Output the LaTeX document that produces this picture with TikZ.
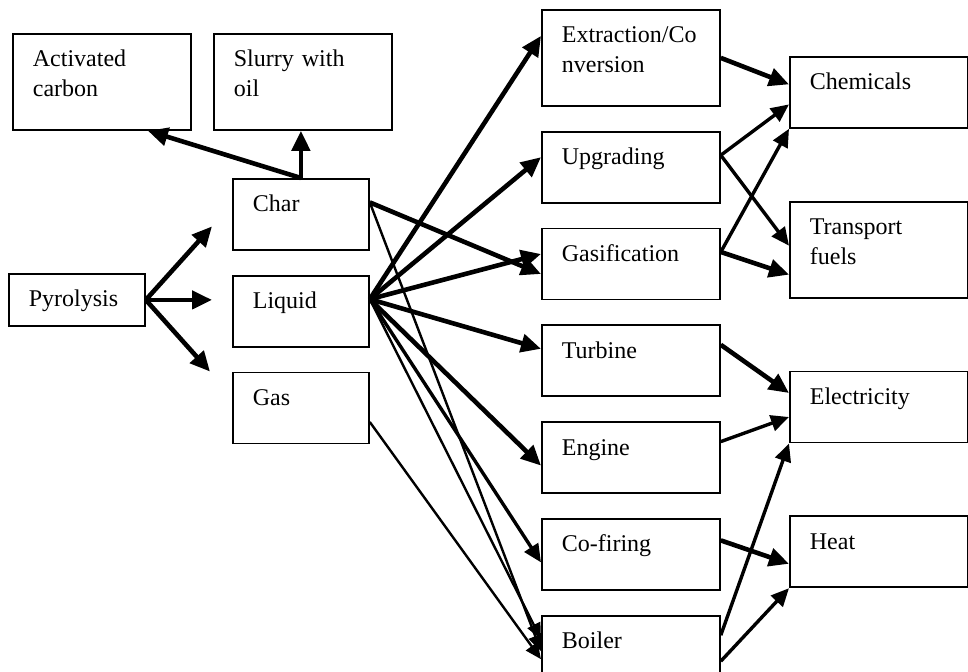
\documentclass[tikz,border=0pt]{standalone}
\usepackage{fontspec}
\setmainfont{Liberation Serif}
\usetikzlibrary{arrows.meta, positioning}
\tikzset{
  block/.style={
    rectangle, draw=black, line width=0.9pt, anchor=north west,
    inner xsep=10pt, inner ysep=0pt, text width=69pt, align=left,
    text height=16.5pt, text depth=19pt,
    font=\fontsize{12}{15}\selectfont
  },
  smallblock/.style={block, text width=48pt},
  tallblock/.style={block, text depth=31.5pt},
  bigflow/.style={-{Triangle[length=10pt, width=9pt]}, line width=2.3pt},
  midflow/.style={-{Triangle[length=9pt, width=8pt]}, line width=1.7pt},
  thinflow/.style={-{Triangle[length=8pt, width=7pt]}, line width=1.2pt}
}

\begin{document}
\begin{tikzpicture}[x=0.5pt, y=-0.5pt, node distance=12pt]
\useasboundingbox (0,0) rectangle (968,672);

\node[tallblock] (actc) at (12,33) {Activated\\carbon};
\node[tallblock] (slurry) at (213,33) {Slurry with\\oil};
\node[smallblock, text depth=9.5pt] (pyro) at (8,273) {Pyrolysis};
\node[smallblock] (char) at (232,178) {Char};
\node[smallblock, below=of char] (liquid) {Liquid};
\node[smallblock, below=of liquid] (gas) {Gas};

\node[tallblock] (extract) at (541,9) {Extraction/Co\\nversion};
\node[block, below=of extract] (upgrade) {Upgrading};
\node[block, below=of upgrade] (gasif) {Gasification};
\node[block, below=of gasif] (turbine) {Turbine};
\node[block, below=of turbine] (engine) {Engine};
\node[block, below=of engine] (cofire) {Co-firing};
\node[block, below=of cofire] (boiler) {Boiler};

\node[block] (chem) at (789,56) {Chemicals};
\node[tallblock, below=36pt of chem] (fuels) {Transport\\fuels};
\node[block, below=36pt of fuels] (elec) {Electricity};
\node[block, below=36pt of elec] (heat) {Heat};

\draw[bigflow] (pyro.east) -- ([xshift=-10pt, yshift=-6pt]char.west);
\draw[bigflow, shorten >=10pt] (pyro.east) -- (pyro.east -| liquid.west);
\draw[bigflow] (pyro.east) -- ([xshift=-11pt]gas.north west);

\draw[bigflow] (char.north) -- ([xshift=23pt]actc.south);
\draw[bigflow] (char.north) -- (char.north |- slurry.south);

\coordinate (charout) at ([yshift=6pt]char.east);
\coordinate (liqout) at ([yshift=6pt]liquid.east);
\draw[bigflow] (charout) -- ([yshift=-5pt]gasif.west);
\draw[thinflow] (charout) -- (boiler.west);
\foreach \n/\s/\w in {extract/11pt/bigflow, upgrade/5pt/bigflow, gasif/5pt/bigflow,
    turbine/6pt/bigflow, engine/-4pt/bigflow, cofire/-4pt/midflow, boiler/6pt/thinflow}
  \draw[\w] (liqout) -- ([yshift=\s]\n.west);
\draw[thinflow] ([yshift=-7pt]gas.east) -- ([yshift=-4pt]boiler.west);

\coordinate (upout) at ([yshift=6pt]upgrade.east);
\coordinate (gasout) at ([yshift=6pt]gasif.east);
\draw[bigflow] (extract.east) -- ([yshift=4pt]chem.west);
\draw[midflow] (upout) -- ([yshift=-6pt]chem.west);
\draw[midflow] (upout) -- ([yshift=2pt]fuels.west);
\draw[midflow] (gasout) -- (chem.south west);
\draw[bigflow] (gasout) -- ([yshift=-12.5pt]fuels.west);
\draw[bigflow] ([yshift=8pt]turbine.east) -- ([yshift=7pt]elec.west);
\draw[midflow] ([yshift=8pt]engine.east) -- ([yshift=-5pt]elec.west);
\draw[bigflow] ([yshift=7pt]cofire.east) -- ([yshift=-6pt]heat.west);
\draw[midflow] ([yshift=8pt]boiler.east) -- (elec.south west);
\draw[midflow] ([yshift=-5pt]boiler.east) -- (heat.south west);
\end{tikzpicture}
\end{document}
